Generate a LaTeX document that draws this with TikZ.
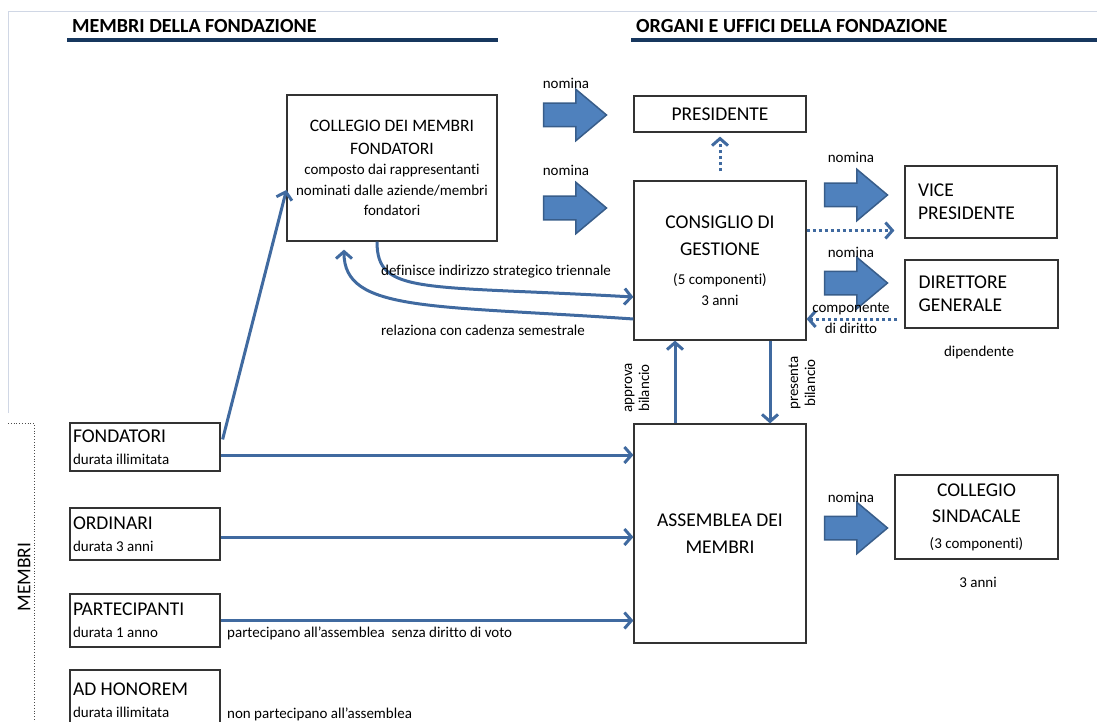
\documentclass[tikz,border=0pt]{standalone}
\usepackage{fontspec}
\setmainfont{Carlito}[Ligatures=NoCommon]
\usetikzlibrary{arrows.meta,shapes.arrows}
\definecolor{linea}{RGB}{64,106,160}
\definecolor{freccia}{RGB}{79,129,189}
\definecolor{bordofr}{RGB}{56,93,138}
\definecolor{navy}{RGB}{23,55,94}
\definecolor{grigio}{RGB}{208,215,229}
\newcommand{\minore}[1]{{\fontsize{15}{20}\selectfont #1}}
\tikzset{
  box/.style={draw=black!80, line width=1.2pt, align=center, inner sep=2pt,
    font=\fontsize{19.5}{22}\selectfont},
  membox/.style={box, minimum width=150pt, text width=144pt, inner xsep=3pt, align=flush left},
  boxsx/.style={box, text width=126pt, align=flush left},
  conn/.style={draw=linea, line width=3pt, -{Straight Barb[length=7pt,width=16pt]}},
  punt/.style={conn, dash pattern=on 3pt off 3pt},
  nomfr/.style={single arrow, draw=bordofr, fill=freccia, line width=1.5pt,
    minimum height=63pt, inner xsep=0pt, inner ysep=11pt, single arrow head extend=14pt,
    single arrow tip angle=80},
  etich/.style={font=\fontsize{15}{21}\selectfont, inner sep=0pt},
  titolo/.style={font=\fontsize{20}{22}\selectfont\bfseries, anchor=west, inner sep=0pt}
}
\begin{document}
\begin{tikzpicture}[x=1pt,y=-1pt]
   \useasboundingbox (0,0) rectangle (1097,722);
   \clip (0,0) rectangle (1097,722);
   %cornice
   \draw[grigio, line width=1pt] (8,413) -- (8,12) -- (1097,12);
   \draw[black!70, dotted, line width=0.8pt] (8,423) -- (34,423) -- (34,722);
   \node[font=\fontsize{19.5}{22}\selectfont, rotate=90] (membri) at (24,577) {MEMBRI};
   %intestazioni
   \node[titolo] (tmembri) at (72,26) {MEMBRI DELLA FONDAZIONE};
   \node[titolo] (torgani) at (636,26) {ORGANI E UFFICI DELLA FONDAZIONE};
   \draw[navy, line width=3.5pt] (67,40) -- (498,40);
   \draw[navy, line width=3.5pt] (631,40) -- (1097,40);
   %membri
   \node[membox, minimum height=48pt] (fond) at (145,447) {FONDATORI\\\minore{durata illimitata}};
   \node[membox, minimum height=52pt] (ord) at (145,534) {ORDINARI\\\minore{durata 3 anni}};
   \node[membox, minimum height=53pt] (par) at (145,620.5) {PARTECIPANTI\\\minore{durata 1 anno}};
   \node[membox, minimum height=60pt] (adh) at (145,700) {AD HONOREM\\\minore{durata illimitata}};
   %organi
   \node[box, font=\fontsize{17.5}{20.5}\selectfont, minimum width=210pt, minimum height=146pt] (cmf) at (392,168)
      {COLLEGIO DEI MEMBRI\\[2pt]FONDATORI\\\minore{composto dai rappresentanti}\\
       \minore{nominati dalle aziende/membri}\\\minore{fondatori}};
   \node[box, minimum width=172pt, minimum height=36pt] (prs) at (720,114) {PRESIDENTE};
   \node[box, minimum width=172pt, minimum height=159pt] (cg) at (720,260.5)
      {CONSIGLIO DI\\[5pt]GESTIONE\\[7pt]\minore{(5 componenti)}\\[-1pt]\minore{3 anni}};
   \node[boxsx, minimum width=152pt, minimum height=72pt] (vice) at (981,202) {VICE\\[1pt]PRESIDENTE};
   \node[boxsx, minimum width=153pt, minimum height=68pt] (dir) at (981.5,294) {DIRETTORE\\[1pt]GENERALE};
   \node[box, minimum width=172pt, minimum height=219pt] (asm) at (720,533.5) {ASSEMBLEA DEI\\[5pt]MEMBRI};
   \node[box, minimum width=163pt, minimum height=84pt] (sind) at (976.5,517)
      {COLLEGIO\\[4pt]SINDACALE\\[4pt]\minore{(3 componenti)}};
   %frecce nomina
   \node[nomfr] (nom1) at (568,115) {};
   \node[nomfr] (nom2) at (568,208) {};
   \node[nomfr] (nom3) at (849,195) {};
   \node[nomfr] (nom4) at (849,283) {};
   \node[nomfr] (nom5) at (849,528) {};
   \node[etich] (lnom1) at (566,83) {nomina};
   \node[etich] (lnom2) at (566,170) {nomina};
   \node[etich] (lnom3) at (851,157) {nomina};
   \node[etich] (lnom4) at (851,252) {nomina};
   \node[etich] (lnom5) at (851,497) {nomina};
   %collegamenti
   \coordinate (f1) at ([yshift=-8pt]fond.east);
   \coordinate (o1) at ([yshift=-3pt]ord.east);
   \coordinate (p1) at (par.east);
   \draw[conn] ([xshift=2pt,yshift=-17pt]fond.north east) -- ([yshift=-22pt]cmf.west);
   \draw[conn] (f1) -- (f1 -| asm.west);
   \draw[conn] (o1) -- (o1 -| asm.west);
   \draw[conn] (p1) -- (p1 -| asm.west);
   \draw[conn] ([xshift=-45pt]asm.north) -- ([xshift=-45pt]cg.south);
   \draw[conn] ([xshift=50pt]cg.south) -- ([xshift=50pt]asm.north);
   \draw[conn] ([xshift=-15pt]cmf.south) .. controls (377,295) and (420,285) .. ([yshift=-36.5pt]cg.west);
   \draw[conn, shorten >=8pt] ([yshift=-58.5pt]cg.west) .. controls (430,305) and (344,312) .. ([xshift=-48pt]cmf.south);
   \draw[punt, shorten <=9pt, shorten >=4pt] (cg.north) -- (prs.south);
   \coordinate (v1) at ([yshift=30pt]cg.east);
   \draw[punt, shorten >=10pt] (v1) -- (v1 -| vice.west);
   \coordinate (d1) at ([yshift=-25pt]dir.west);
   \draw[punt, shorten <=7pt] (d1) -- (d1 -| cg.east);
   %etichette
   \node[etich, anchor=west] (ldef) at (381,272) {definisce indirizzo strategico triennale};
   \node[etich, anchor=west] (lrel) at (381,330) {relaziona con cadenza semestrale};
   \node[etich, anchor=west] (lpar) at (227,633) {partecipano all'assemblea\ \ senza diritto di voto};
   \node[etich, anchor=west] (ladh) at (227,714) {non partecipano all'assemblea};
   \node[etich, align=center] (lcomp) at (851,318) {componente\\di diritto};
   \node[etich] (ldip) at (979,352) {dipendente};
   \node[etich] (lanni) at (978,582) {3 anni};
   \node[etich, align=center, rotate=90, font=\fontsize{15}{17}\selectfont] (lapp) at (637,388) {approva\\bilancio};
   \node[etich, align=center, rotate=90, font=\fontsize{15}{17}\selectfont] (lpre) at (802,383) {presenta\\bilancio};
\end{tikzpicture}
\end{document}
